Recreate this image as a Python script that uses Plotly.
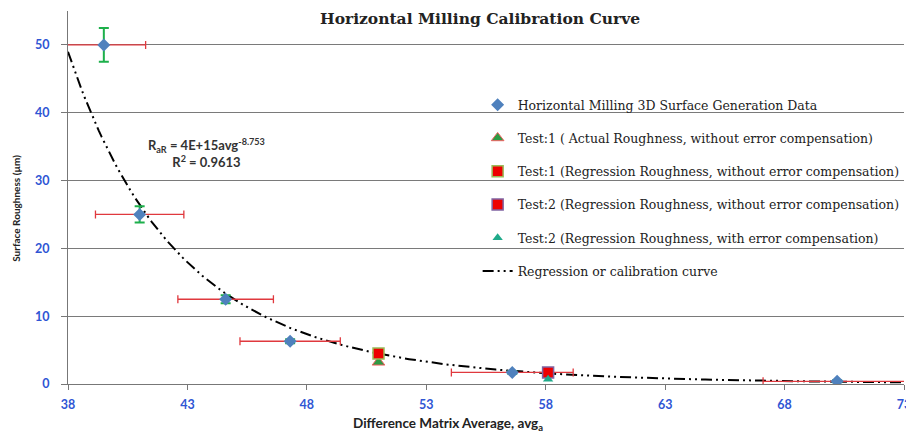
import numpy as np
import plotly.graph_objects as go

# ---- data ----
data_x = [39.5, 41.0, 44.6, 47.3, 56.6, 70.2]
data_y = [50.0, 25.0, 12.5, 6.3, 1.7, 0.4]
data_xerr = [1.75, 1.85, 2.0, 2.1, 2.55, 3.1]
data_yerr = [2.5, 1.2, 0.6, 0.3, 0.2, 0.15]

t1_actual_x = [51.0]
t1_actual_y = [3.2]
t1_reg_x = [51.0]
t1_reg_y = [4.5]
t2_reg_x = [58.1]
t2_reg_y = [1.7]
t2_comp_x = [58.1]
t2_comp_y = [0.7]

x_ticks = [38, 43, 48, 53, 58, 63, 68, 73]
y_ticks = [0, 10, 20, 30, 40, 50]

# power trendline fitted to the data (log-log least squares, like a spreadsheet trendline)
slope, intercept = np.polyfit(np.log(data_x), np.log(data_y), 1)
curve_x = np.linspace(38, 73, 300)
curve_y = np.exp(intercept) * curve_x ** slope

serif = "DejaVu Serif"
sans = "Lato"
blue_txt = "#2f55d4"

fig = go.Figure()

fig.add_trace(go.Scatter(
    x=curve_x, y=curve_y, mode="lines",
    line=dict(color="black", width=2, dash="11px,4px,2px,4px,2px,4px"),
    name="Regression or calibration curve", legendrank=6,
    legendgroup="g6",
))

fig.add_trace(go.Scatter(
    x=data_x, y=data_y, mode="markers",
    marker=dict(symbol="diamond", size=10, color="#4f81bd"),
    error_x=dict(type="data", array=data_xerr, color="#e0393e", thickness=1.3, width=4),
    error_y=dict(type="data", array=data_yerr, color="#1db04b", thickness=2, width=5),
    name="Horizontal Milling 3D Surface Generation Data", legendrank=1,
    legendgroup="g1",
))

fig.add_trace(go.Scatter(
    x=t1_actual_x, y=t1_actual_y, mode="markers",
    marker=dict(symbol="triangle-up", size=11, color="#2e9a44",
                line=dict(color="#f06060", width=1)),
    name="Test:1 ( Actual Roughness, without error compensation)", legendrank=2,
    legendgroup="g2",
))

fig.add_trace(go.Scatter(
    x=t1_reg_x, y=t1_reg_y, mode="markers",
    marker=dict(symbol="square", size=11, color="#ee0000",
                line=dict(color="#9bbb59", width=1.5)),
    name="Test:1 (Regression Roughness, without error compensation)", legendrank=3,
    legendgroup="g3",
))

fig.add_trace(go.Scatter(
    x=t2_reg_x, y=t2_reg_y, mode="markers",
    marker=dict(symbol="square", size=11, color="#ee0000",
                line=dict(color="#8064a2", width=1.5)),
    name="Test:2 (Regression Roughness, without error compensation)", legendrank=4,
    legendgroup="g4",
))

fig.add_trace(go.Scatter(
    x=t2_comp_x, y=t2_comp_y, mode="markers",
    marker=dict(symbol="triangle-up", size=9, color="#1faa8a"),
    name="Test:2 (Regression Roughness, with error compensation)", legendrank=5,
    legendgroup="g5",
))

# page has an 8px body margin, so the figure is 8px smaller and shifted
fig.update_layout(
    width=906, height=426,
    margin=dict(l=60, r=7, t=3, b=50),
    plot_bgcolor="white", paper_bgcolor="white",
    showlegend=True,
    legend=dict(
        x=0.49, y=0.788, xanchor="left", yanchor="top",
        font=dict(family=serif, size=12.5, color="#222"),
        bgcolor="rgba(0,0,0,0)", tracegroupgap=14,
    ),
    xaxis=dict(
        range=[38, 73], tickvals=x_ticks, ticktext=[str(v) for v in x_ticks],
        showgrid=False, zeroline=False, showline=True, linecolor="#777", linewidth=1.2,
        ticks="outside", ticklen=5, tickcolor="#777", ticklabelstandoff=4,
        ticklabeloverflow="allow",
        tickfont=dict(family=sans, size=12.5, color=blue_txt, weight="bold"),
    ),
    yaxis=dict(
        range=[0, 55], tickvals=y_ticks, ticktext=[str(v) for v in y_ticks],
        showgrid=True, gridcolor="#7a7a7a", gridwidth=1.3,
        zeroline=False, showline=True, linecolor="#777", linewidth=1.2,
        ticks="outside", ticklen=6, tickcolor="#777", ticklabelstandoff=9,
        tickfont=dict(family=sans, size=12.5, color=blue_txt, weight="bold"),
    ),
    annotations=[
        dict(text="<b>Horizontal Milling Calibration Curve</b>", xref="paper", yref="paper",
             x=0.493, y=0.981, showarrow=False, xanchor="center", yanchor="middle",
             font=dict(family=serif, size=15.5, color="#222")),
        dict(text="<b>R<sub>aR</sub> = 4E+15avg<sup>-8.753</sup><br>R<sup>2</sup> = 0.9613</b>",
             xref="x", yref="y", x=43.8, y=34.0, showarrow=False,
             xanchor="center", yanchor="middle", align="center",
             font=dict(family=sans, size=13, color="#333")),
        dict(text="<b>Difference Matrix Average, avg<sub>a</sub></b>", xref="paper", yref="paper",
             x=0.455, y=-0.108, showarrow=False, xanchor="center", yanchor="middle",
             font=dict(family=sans, size=13.5, color="#222")),
        dict(text="<b>Surface Roughness (µm)</b>", xref="paper", yref="paper",
             x=-0.062, y=0.47, showarrow=False, textangle=-90,
             xanchor="center", yanchor="middle",
             font=dict(family=sans, size=10, color="#222")),
    ],
)

fig.write_html("out.html")
